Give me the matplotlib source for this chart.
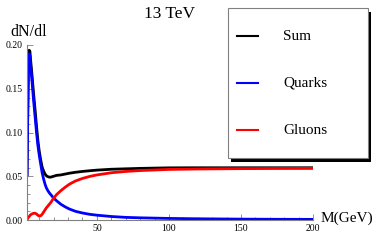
import numpy as np
import matplotlib
matplotlib.use('Agg')
import matplotlib.pyplot as plt
from matplotlib.patches import Rectangle
from matplotlib.lines import Line2D
from matplotlib.ticker import MultipleLocator, FormatStrFormatter

# Invariant mass (GeV) and dN/dl
mass = [1.5, 2, 2.5, 3, 3.5, 4, 5, 6, 7, 8, 9, 10, 11, 12, 13, 14, 15, 16,
        17, 18, 20, 22, 25, 28, 31, 35, 40, 45, 50, 60, 70, 80, 100, 120,
        150, 175, 200]
quarks = [0.05, 0.12, 0.175, 0.19, 0.188, 0.177, 0.158, 0.138, 0.12, 0.102,
          0.086, 0.074, 0.064, 0.054, 0.047, 0.041, 0.0365, 0.0335, 0.031,
          0.029, 0.025, 0.022, 0.018, 0.015, 0.0125, 0.010, 0.008, 0.0065,
          0.0055, 0.004, 0.003, 0.0025, 0.0018, 0.0014, 0.001, 0.0008,
          0.0007]
gluons = [0.0, 0.002, 0.003, 0.004, 0.005, 0.006, 0.007, 0.0076, 0.0078,
          0.007, 0.0055, 0.0045, 0.0048, 0.0065, 0.009, 0.0115, 0.014, 0.016,
          0.018, 0.020, 0.025, 0.029, 0.0335, 0.0375, 0.041, 0.0445, 0.0475,
          0.0498, 0.0515, 0.054, 0.0555, 0.0565, 0.0578, 0.0583, 0.0587,
          0.0589, 0.059]
total = [0.05, 0.122, 0.178, 0.194, 0.193, 0.183, 0.165, 0.1456, 0.1278,
         0.109, 0.0915, 0.0785, 0.0688, 0.0605, 0.056, 0.0525, 0.0505,
         0.0495, 0.049, 0.049, 0.050, 0.051, 0.0515, 0.0525, 0.0535, 0.0545,
         0.0555, 0.0563, 0.057, 0.058, 0.0585, 0.059, 0.0596, 0.0597, 0.0597,
         0.0597, 0.0597]

labels = ['Sum', 'Quarks', 'Gluons']
colors = ['black', 'blue', 'red']

plt.rcParams['font.family'] = ['Liberation Serif', 'DejaVu Serif']
W, H = 382, 241
fig = plt.figure(figsize=(W / 100, H / 100), dpi=100)
ax = fig.add_axes([27 / W, 1 - 220 / H, (313 - 27) / W, (220 - 45) / H])

for series, c in zip([total, quarks, gluons], colors):
    ax.plot(mass, series, color=c, lw=2, solid_capstyle='butt')

ax.set_xlim(1.5, 200)
ax.set_ylim(0, 0.2)
for s in ['top', 'right']:
    ax.spines[s].set_visible(False)
for s in ['left', 'bottom']:
    ax.spines[s].set_color('#808080')
    ax.spines[s].set_linewidth(0.8)
ax.xaxis.set_major_locator(MultipleLocator(50))
ax.xaxis.set_minor_locator(MultipleLocator(10))
ax.yaxis.set_major_locator(MultipleLocator(0.05))
ax.yaxis.set_minor_locator(MultipleLocator(0.01))
ax.yaxis.set_major_formatter(FormatStrFormatter('%.2f'))
ax.tick_params(which='both', direction='in', color='#808080', labelsize=7,
               width=0.6, pad=3)
ax.tick_params(which='major', length=4)
ax.tick_params(which='minor', length=2)
ax.patch.set_visible(False)

fig.text(169 / W, 1 - 14 / H, '13 TeV', ha='center', va='center', fontsize=12.5)
fig.text(10 / W, 1 - 32 / H, 'dN/dl', ha='left', va='center', fontsize=11.5)
fig.text(321 / W, 1 - 218 / H, 'M(GeV)', ha='left', va='center', fontsize=11)

# legend box with drop shadow
bx0, by0 = 228 / W, 1 - 158 / H
bw, bh = (368 - 228) / W, (158 - 8) / H
fig.patches.append(Rectangle((bx0 + 3 / W, by0 - 4 / H), bw, bh,
                             transform=fig.transFigure, facecolor='black',
                             edgecolor='none', zorder=5))
fig.patches.append(Rectangle((bx0, by0), bw, bh, transform=fig.transFigure,
                             facecolor='white', edgecolor='#808080', lw=0.8,
                             zorder=6))
for i, (lab, c) in enumerate(zip(labels, colors)):
    y = 1 - (36 + 47 * i) / H
    fig.lines.append(Line2D([237 / W, 258 / W], [y, y], color=c, lw=1.5,
                            transform=fig.transFigure, zorder=7))
    fig.text(283 / W, y, lab, ha='left', va='center', fontsize=11, zorder=8)

fig.savefig('out.png', dpi=100)
